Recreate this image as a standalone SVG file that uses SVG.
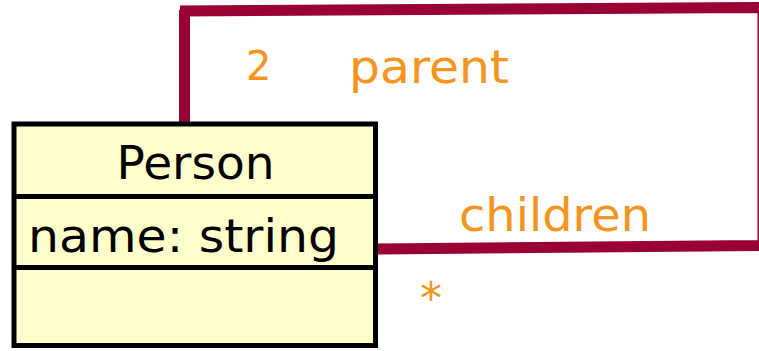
<svg xmlns="http://www.w3.org/2000/svg" width="759" height="351" viewBox="0 0 759 351">
<style>
.box{fill:#FFFFCC;stroke:#000;stroke-width:5}
.div{stroke:#000;stroke-width:5}
.txt{font-family:"DejaVu Sans",Verdana,sans-serif;font-size:46px;fill:#000}
.lbl{font-family:"DejaVu Sans",Verdana,sans-serif;font-size:46px;fill:#F7941E}
.conn{fill:none;stroke:#990033;stroke-width:11;stroke-linecap:butt;stroke-linejoin:miter}
</style>
<g id="connectors">
<path class="conn" d="M184.5 123 L184.5 10 M180 11 L763 7.5 L763 245.5 L377 249"/>
</g>
<g id="Person">
<rect class="box" x="14" y="124" width="361.5" height="221.5"/>
<line class="div" x1="14" y1="196.5" x2="375.5" y2="196.5"/>
<line class="div" x1="14" y1="267.5" x2="375.5" y2="267.5"/>
<text class="txt" x="195.5" y="179" text-anchor="middle" textLength="158" lengthAdjust="spacingAndGlyphs">Person</text>
<text class="txt" x="28" y="252" textLength="311" lengthAdjust="spacingAndGlyphs">name: string</text>
</g>
<g id="labels">
<text class="lbl" x="246" y="80" style="font-size:40px">2</text>
<text class="lbl" x="349" y="83" textLength="160" lengthAdjust="spacingAndGlyphs">parent</text>
<text class="lbl" x="459" y="231" textLength="192" lengthAdjust="spacingAndGlyphs">children</text>
<text class="lbl" x="420" y="314" style="font-size:44px">*</text>
</g>
</svg>
